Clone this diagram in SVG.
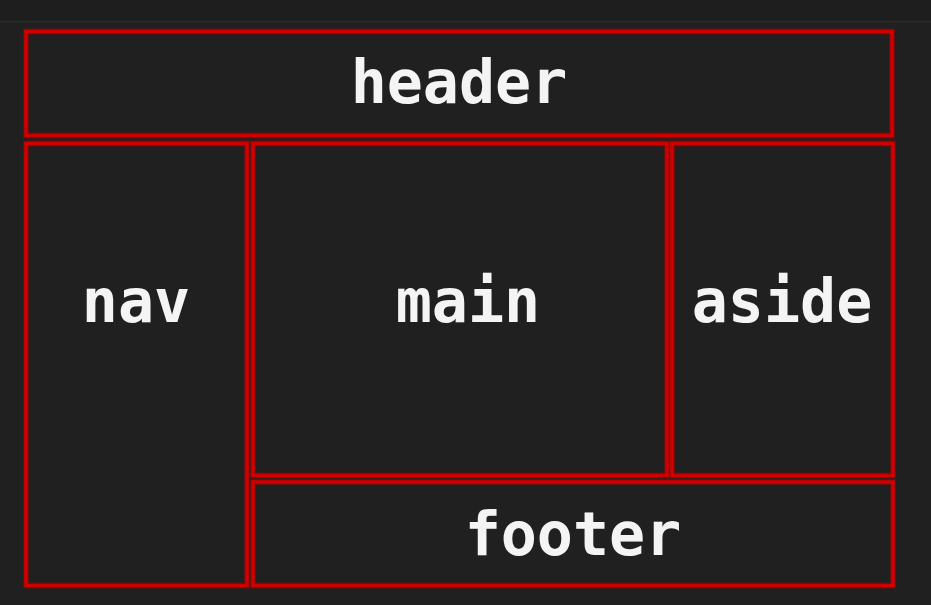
<svg xmlns="http://www.w3.org/2000/svg" width="931" height="605" viewBox="0 0 931 605">
<style>
.box{fill:none;stroke:#d10000;stroke-width:3.5}
.glow{fill:none;stroke:#b00000;stroke-width:6;opacity:0.45}
.lbl{font-family:"DejaVu Sans Mono","Liberation Mono",monospace;font-weight:bold;font-size:60px;fill:#f4f4f4;text-anchor:middle}
</style>
<rect x="0" y="0" width="931" height="605" fill="#202020"/>
<rect x="0" y="0" width="931" height="21" fill="#1e1e1e"/>
<line x1="0" y1="21.5" x2="931" y2="21.5" stroke="#2c2c2c" stroke-width="1.5"/>
<g id="header">
<rect class="glow" x="26" y="31.5" width="866" height="104"/>
<rect class="box" x="26" y="31.5" width="866" height="104"/>
<text class="lbl" x="459" y="103">header</text>
</g>
<g id="nav">
<rect class="glow" x="26" y="143.5" width="221" height="442"/>
<rect class="box" x="26" y="143.5" width="221" height="442"/>
<text class="lbl" x="136" y="322">nav</text>
</g>
<g id="main">
<rect class="glow" x="253" y="143.5" width="414" height="332"/>
<rect class="box" x="253" y="143.5" width="414" height="332"/>
<text class="lbl" x="468" y="322">main</text>
</g>
<g id="aside">
<rect class="glow" x="672" y="143.5" width="221" height="332"/>
<rect class="box" x="672" y="143.5" width="221" height="332"/>
<text class="lbl" x="782" y="322">aside</text>
</g>
<g id="footer">
<rect class="glow" x="253" y="482" width="640" height="103.5"/>
<rect class="box" x="253" y="482" width="640" height="103.5"/>
<text class="lbl" x="573" y="555">footer</text>
</g>
<g id="connectors"></g>
</svg>
